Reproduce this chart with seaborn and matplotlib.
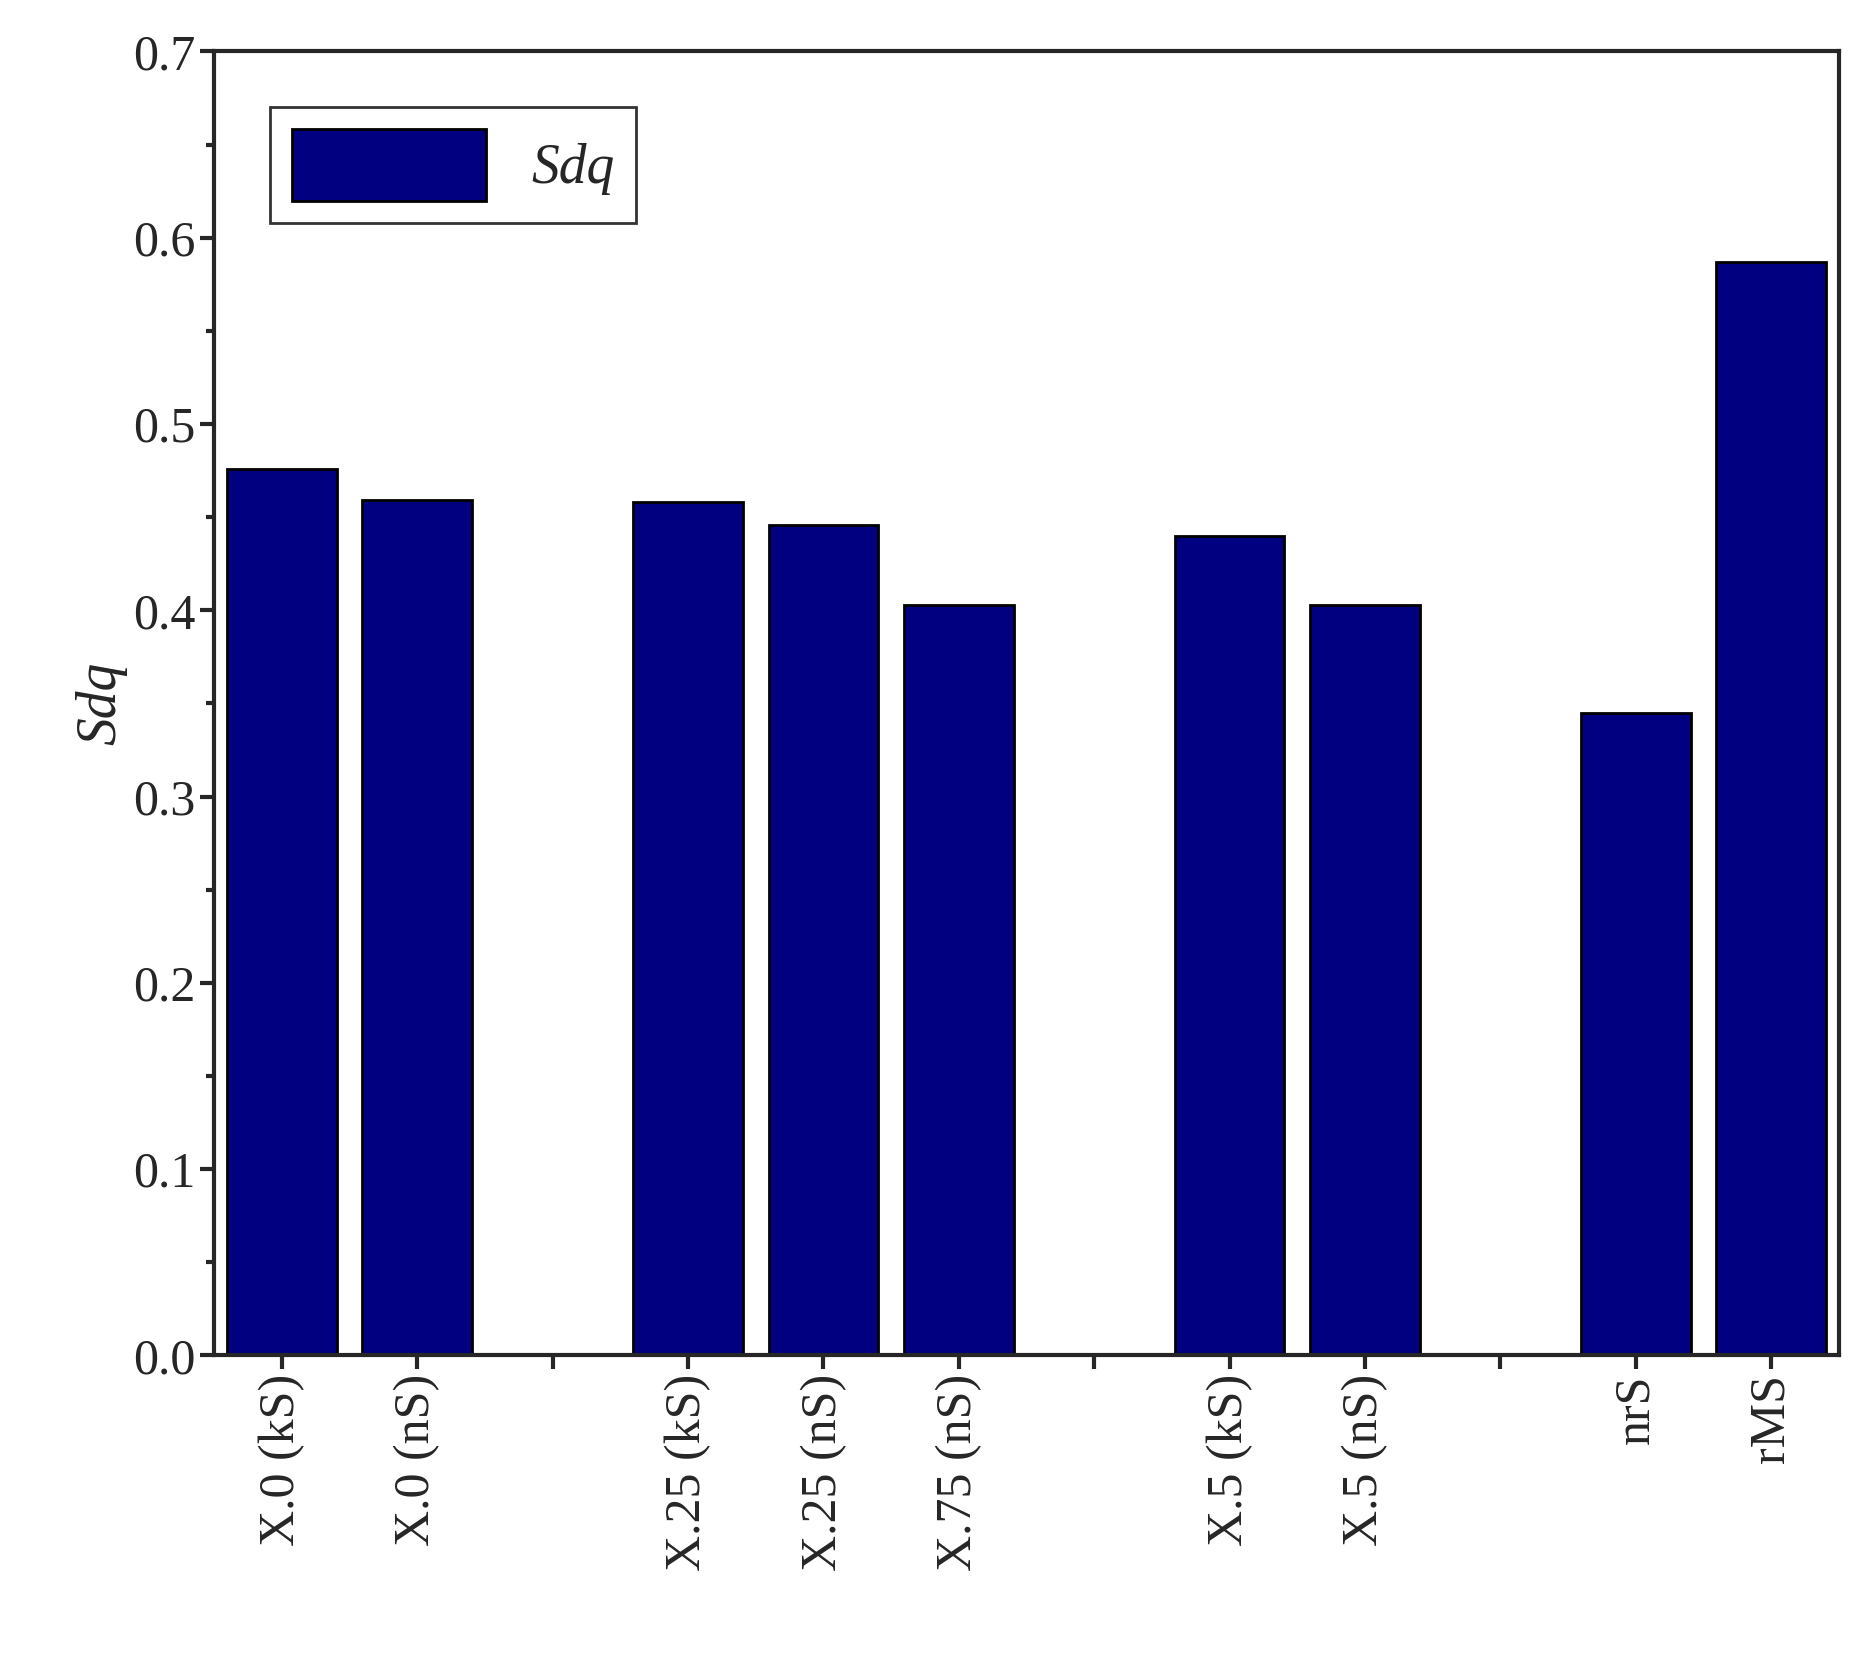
import matplotlib
matplotlib.use("Agg")
import matplotlib.pyplot as plt
import seaborn as sns
import pandas as pd
from matplotlib.ticker import MultipleLocator

sns.set_theme(style="ticks")
plt.rcParams["font.family"] = ["Liberation Serif", "DejaVu Serif"]

# gap slots use distinct blank names so they keep their own positions
slots = ["X.0 (kS)", "X.0 (nS)", " ", "X.25 (kS)", "X.25 (nS)", "X.75 (nS)", "  ",
         "X.5 (kS)", "X.5 (nS)", "   ", "nrS", "rMS"]
samples = ["X.0 (kS)", "X.0 (nS)", "X.25 (kS)", "X.25 (nS)", "X.75 (nS)",
           "X.5 (kS)", "X.5 (nS)", "nrS", "rMS"]
sdq = [0.476, 0.459, 0.458, 0.446, 0.403, 0.440, 0.403, 0.345, 0.587]

df = pd.DataFrame({"sample": samples, "Sdq": sdq})

fig = plt.figure(figsize=(18.63, 16.59), dpi=100)
ax = fig.add_axes([0.115, 0.183, 0.872, 0.786])
sns.barplot(data=df, x="sample", y="Sdq", order=slots, color="#000080", saturation=1,
            width=0.81, edgecolor="black", linewidth=2, ax=ax, label="Sdq")

ax.set_xlim(-0.5, len(slots) - 0.5)
ax.set_ylim(0, 0.7)
ax.yaxis.set_major_locator(MultipleLocator(0.1))
ax.yaxis.set_minor_locator(MultipleLocator(0.05))
ax.yaxis.set_major_formatter(matplotlib.ticker.FormatStrFormatter("%.1f"))
ax.set_xticks(range(len(slots)))
ax.set_xticklabels([s.strip() for s in slots], rotation=90, fontsize=36)
ax.tick_params(axis="y", labelsize=36, width=3, length=10, direction="out")
ax.tick_params(axis="y", which="minor", width=3, length=6)
ax.tick_params(axis="x", width=3, length=10, direction="out")
for sp in ax.spines.values():
    sp.set_visible(True)
    sp.set_linewidth(3)
ax.set_xlabel("")
ax.set_ylabel("Sdq", fontsize=40, style="italic")

leg = ax.legend(loc="upper left", fontsize=40, prop={"style": "italic", "size": 40},
                fancybox=False, edgecolor="black", handlelength=3.5, handleheight=1.6,
                borderaxespad=1.0)
leg.get_frame().set_linewidth(2)

fig.savefig("out.png", dpi=100)
